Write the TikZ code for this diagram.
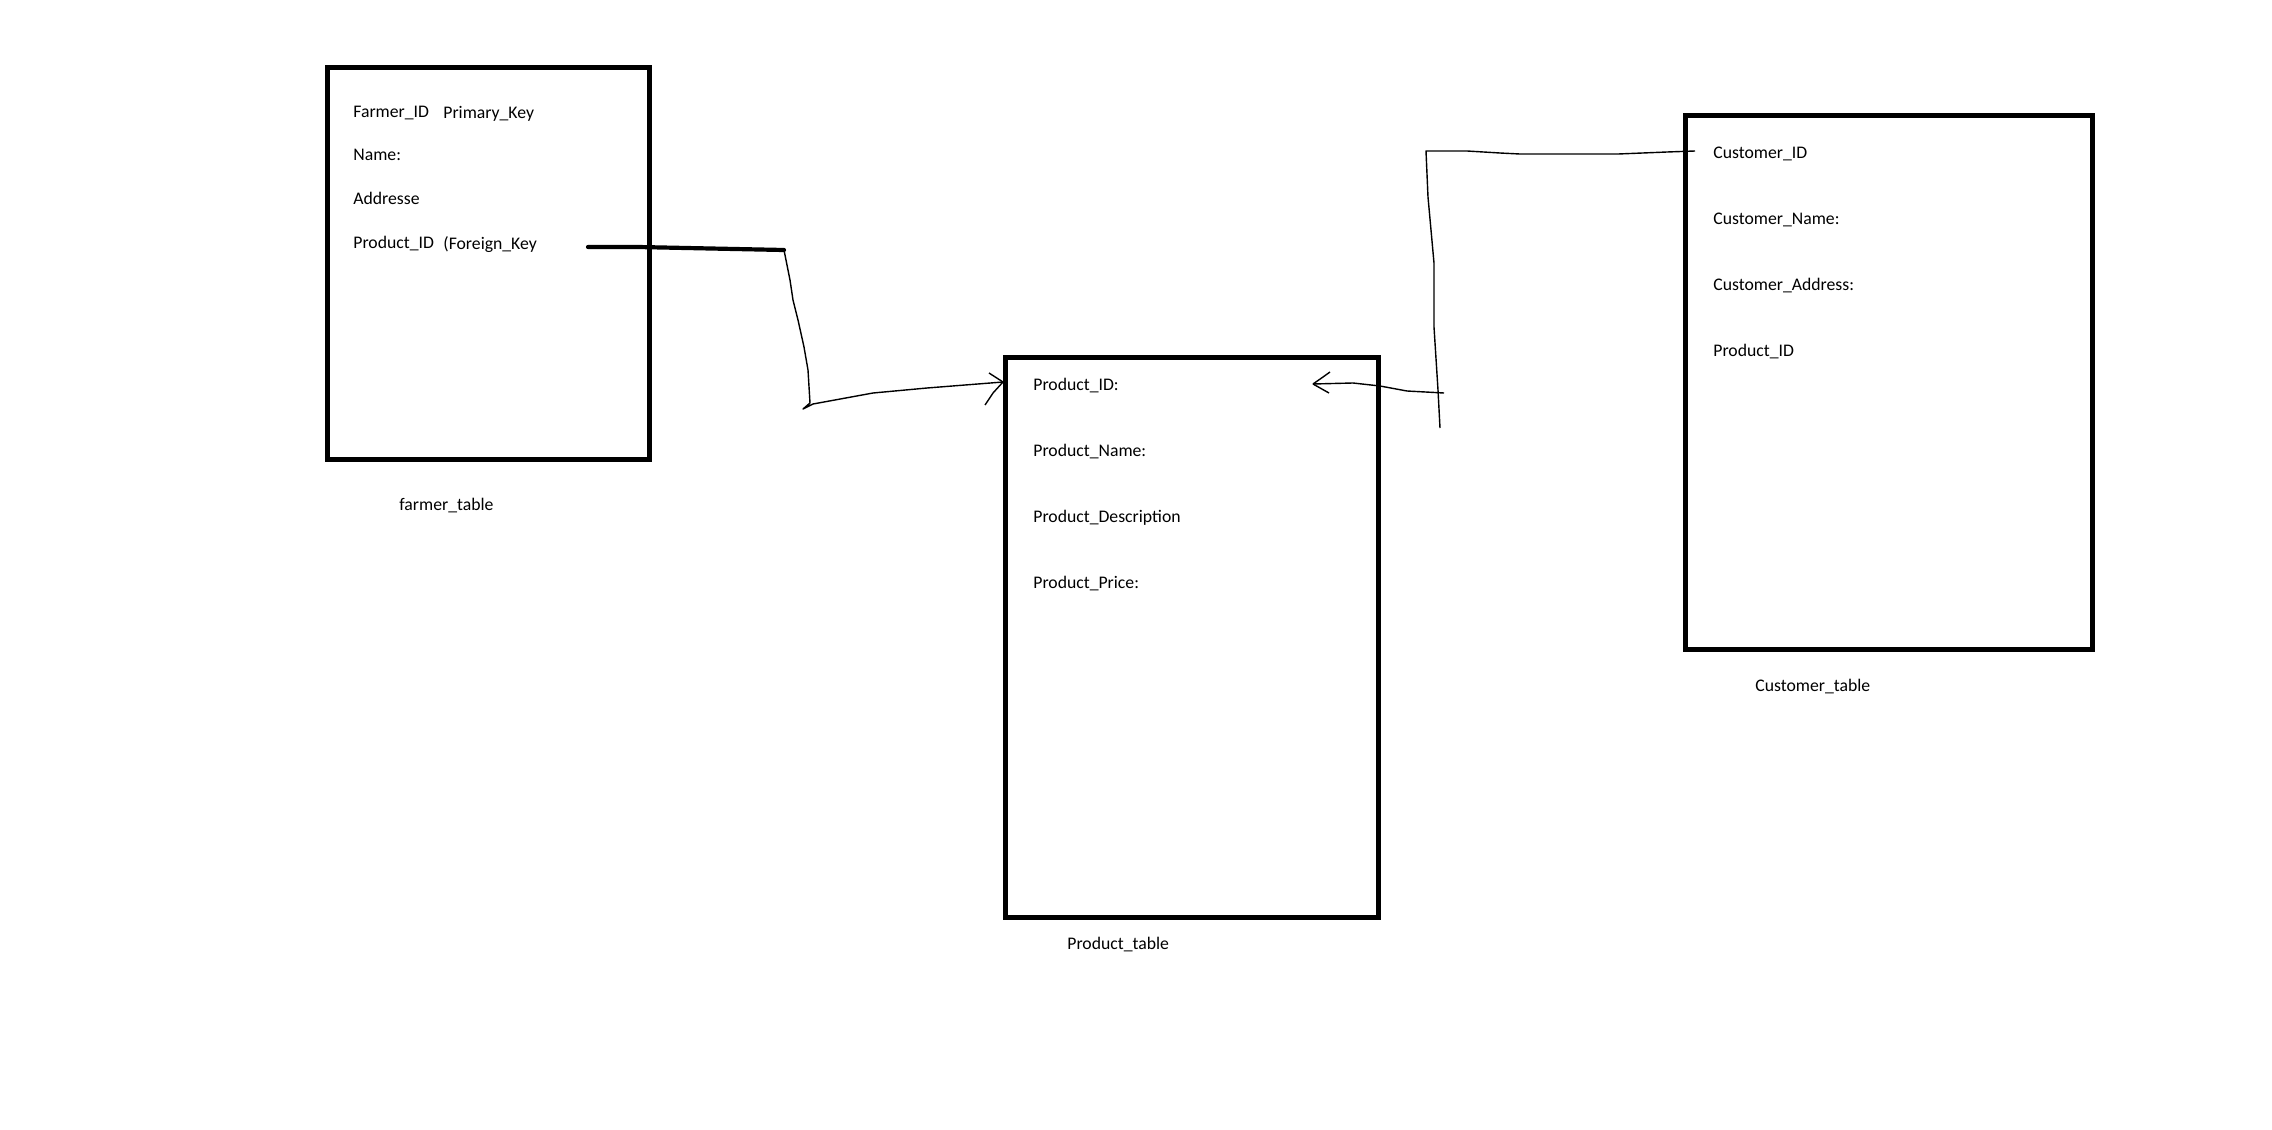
\documentclass[tikz,border=0pt]{standalone}
\usepackage{fontspec}
\setmainfont{Carlito}
\begin{document}
\begin{tikzpicture}[x=0.5pt,y=-0.5pt,
  tablebox/.style={draw=black,line width=2.5pt,inner sep=0pt,fill=none},
  field/.style={anchor=base west,inner sep=0pt,font=\fontsize{8.85pt}{10pt}\selectfont,text=black},
  thickline/.style={line width=2.1pt,line cap=round,line join=round},
  thinline/.style={line width=0.7pt,line join=round}]
\useasboundingbox[fill=white] (0,0) rectangle (2272,1130);

% tables
\node[tablebox,minimum width=161pt,minimum height=196pt] (farmer) at (488,263) {};
\node[tablebox,minimum width=186.5pt,minimum height=280pt] (product) at (1191.5,637) {};
\node[tablebox,minimum width=203.5pt,minimum height=267pt] (customer) at (1888.5,382) {};

% farmer fields
\node[field] (f1) at (353,117) {Farmer\_ID};
\node[field] (fpk) at (443,118) {Primary\_Key};
\node[field] (f2) at (353,160) {Name:};
\node[field] (f3) at (353,204) {Addresse};
\node[field] (f4) at (353,248) {Product\_ID};
\node[field] (ffk) at (443,249) {(Foreign\_Key};
\node[field] (flabel) at (399,510) {farmer\_table};

% product fields
\node[field] (p1) at (1033,390) {Product\_ID:};
\node[field] (p2) at (1033,456) {Product\_Name:};
\node[field] (p3) at (1033,522) {Product\_Description};
\node[field] (p4) at (1033,588) {Product\_Price:};
\node[field] (plabel) at (1067,949) {Product\_table};

% customer fields
\node[field] (c1) at (1713,158) {Customer\_ID};
\node[field] (c2) at (1713,224) {Customer\_Name:};
\node[field] (c3) at (1713,290) {Customer\_Address:};
\node[field] (c4) at (1713,356) {Product\_ID};
\node[field] (clabel) at (1755,691) {Customer\_table};

% farmer.Product_ID -> product.Product_ID
\coordinate (fkstart) at (588,247);
\coordinate (fkbend) at (784,250);
\coordinate (fktip) at (1003,382);
\draw[thickline] (fkstart) -- (638,247) -- (735,249) -- (fkbend);
\draw[thinline] (fkbend) -- (790,280) -- (793,300) -- (798,320) -- (804,347)
  -- (808,370) -- (810,403) -- (803,409) -- (813,404) -- (873,393)
  -- (927,388) -- (fktip);
\draw[thinline] (fktip) -- ++(-14,-9);
\draw[thinline] (fktip) -- ++(-10,11) -- ++(-8,12);

% customer.Customer_ID -> product.Product_ID
\coordinate (ckstart) at (1695,151);
\coordinate (ckend) at (1440,428);
\draw[thinline] (ckstart) -- (1667,152) -- (1618,154) -- (1520,154) -- (1500,153)
  -- (1467,151) -- (1426,151) -- (1428,197) -- (1434,263) -- (1434,327)
  -- (1438,390) -- (ckend);
\coordinate (ckcross) at (1444,393);
\coordinate (cktip) at (1313,384);
\draw[thinline] (ckcross) -- (1407,391) -- (1380,386) -- (1353,383) -- (cktip);
\draw[thinline] (cktip) -- ++(10,-7) -- ++(7,-5);
\draw[thinline] (cktip) -- ++(16,9);
\end{tikzpicture}
\end{document}
